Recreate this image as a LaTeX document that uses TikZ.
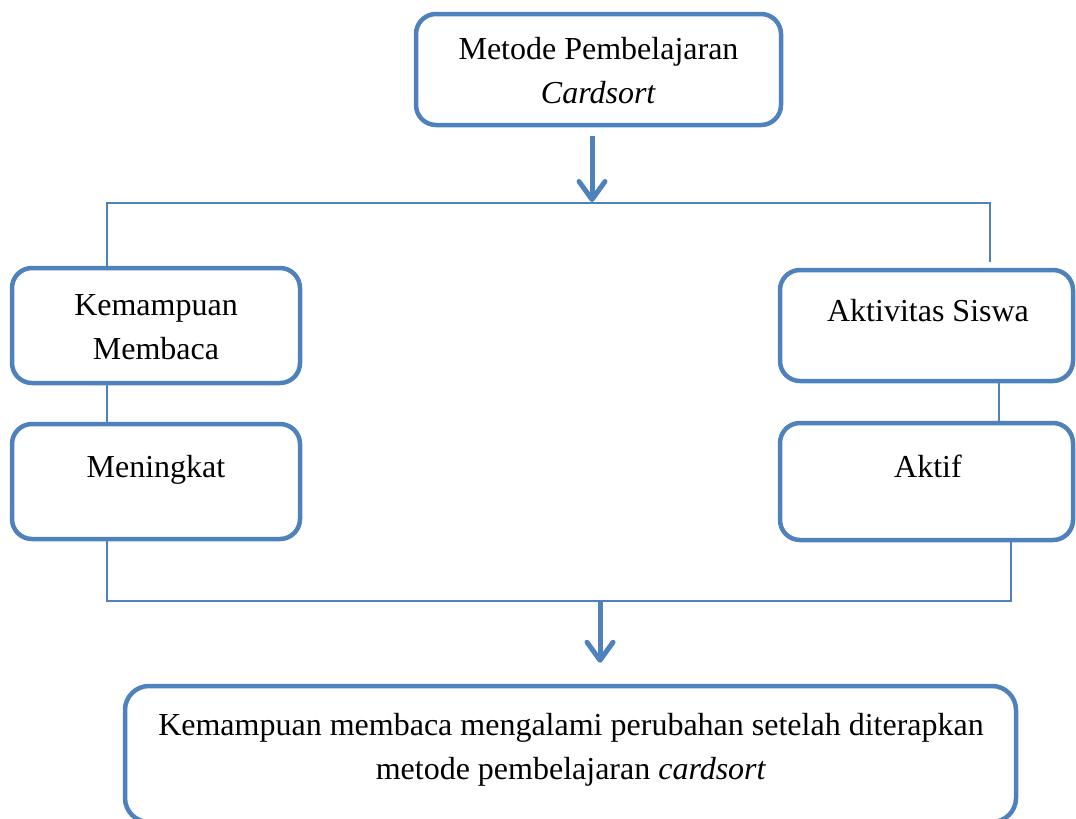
\documentclass[tikz,border=0pt]{standalone}
\usepackage{fontspec}
\setmainfont{Liberation Serif}
\usetikzlibrary{arrows.meta}
\definecolor{ofblue}{RGB}{79,129,189}
\tikzset{
  box/.style={draw=ofblue, line width=4.5pt, rounded corners=20pt, fill=white, inner sep=0pt},
  txt/.style={align=center, inner sep=0pt, anchor=base, font=\fontsize{32}{44}\selectfont},
  conn/.style={draw=ofblue, line width=1.6pt},
  arr/.style={draw=ofblue, line width=5pt, -{Straight Barb[length=18pt,width=26pt,round]}}
}
\begin{document}
\begin{tikzpicture}[x=1pt,y=-1pt]
\useasboundingbox (0,0) rectangle (1076,819);
% boxes
\node[box, minimum width=365pt, minimum height=111pt] (top) at (598.5,69.5) {};
\node[txt] (topt) at (598.5,103) {Metode Pembelajaran\\\textit{Cardsort}};
\node[box, minimum width=288pt, minimum height=115pt] (l1) at (156,325.5) {};
\node[txt] (l1t) at (156,359) {Kemampuan\\Membaca};
\node[box, minimum width=288pt, minimum height=115pt] (l2) at (156,481.5) {};
\node[txt] (l2t) at (156,477) {Meningkat};
\node[box, minimum width=293pt, minimum height=111pt] (r1) at (926.5,325.5) {};
\node[txt] (r1t) at (928,321) {Aktivitas Siswa};
\node[box, minimum width=293pt, minimum height=117pt] (r2) at (926.5,481.5) {};
\node[txt] (r2t) at (928,477) {Aktif};
\node[box, rounded corners=24pt, minimum width=891pt, minimum height=136pt] (bot) at (570.5,754) {};
\node[txt] (bott) at (571,779) {Kemampuan membaca mengalami perubahan setelah diterapkan\\metode pembelajaran \textit{cardsort}};
% junction coordinates
\coordinate (jt) at (592,203);
\coordinate (tl) at (107,203);
\coordinate (tr) at (990,203);
\coordinate (rt) at (990,262);
\coordinate (rx) at (999,0);
\coordinate (bl) at (107,601);
\coordinate (br) at (1011,601);
\coordinate (jb) at (600,601);
% connectors
\draw[conn] (l1.north -| tl) -- (tl) -- (tr) -- (rt);
\draw[conn] (l1.south -| tl) -- (l2.north -| tl);
\draw[conn] (r1.south -| rx) -- (r2.north -| rx);
\draw[conn] (l2.south -| bl) -- (bl) -- (br) -- (r2.south -| br);
\draw[arr, shorten <=9pt, shorten >=1pt] (top.south -| jt) -- (jt);
\draw[arr, shorten >=21pt] (jb) -- (bot.north -| jb);
\end{tikzpicture}
\end{document}
